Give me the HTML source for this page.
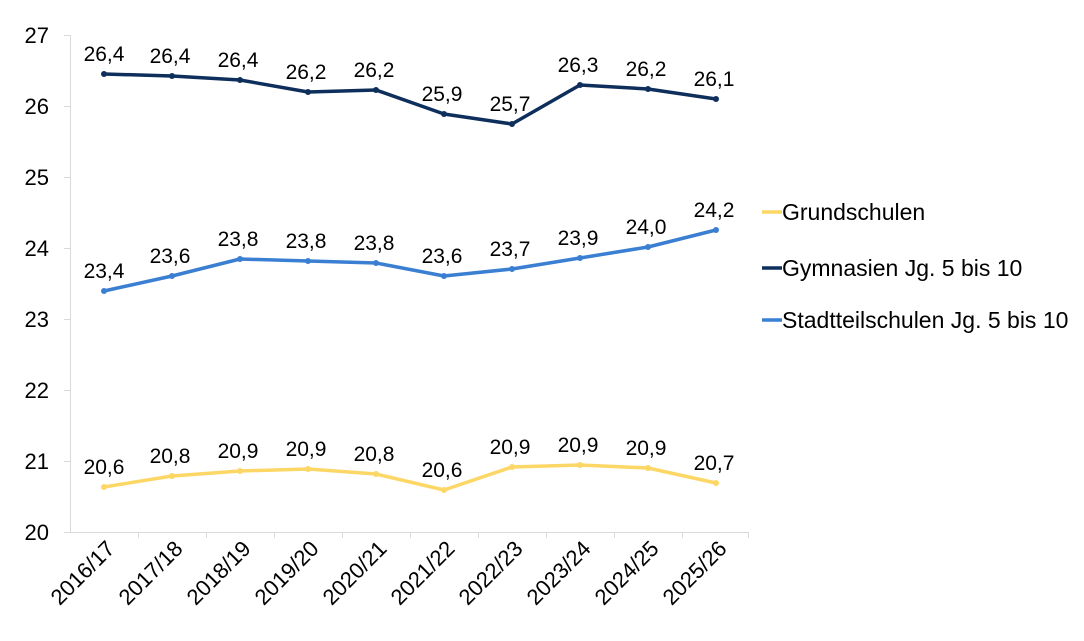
<!DOCTYPE html>
<html><head><meta charset="utf-8"><style>
body{margin:0;background:#fff;}
text{font-family:"Liberation Sans",Arial,sans-serif;fill:#000;}
</style></head><body>
<svg width="1084" height="636" viewBox="0 0 1084 636" xmlns="http://www.w3.org/2000/svg">
<g stroke="#d9d9d9" stroke-width="1">
<line x1="70.5" y1="35" x2="70.5" y2="532"/>
<line x1="70" y1="532.5" x2="748" y2="532.5"/>
<line x1="64" y1="35.5" x2="70" y2="35.5"/><line x1="64" y1="106.5" x2="70" y2="106.5"/>
<line x1="64" y1="177.5" x2="70" y2="177.5"/><line x1="64" y1="248.5" x2="70" y2="248.5"/>
<line x1="64" y1="319.5" x2="70" y2="319.5"/><line x1="64" y1="390.5" x2="70" y2="390.5"/>
<line x1="64" y1="461.5" x2="70" y2="461.5"/><line x1="64" y1="532.5" x2="70" y2="532.5"/>
<line x1="138.5" y1="532" x2="138.5" y2="538"/><line x1="206.5" y1="532" x2="206.5" y2="538"/>
<line x1="274.5" y1="532" x2="274.5" y2="538"/><line x1="342.5" y1="532" x2="342.5" y2="538"/>
<line x1="410.5" y1="532" x2="410.5" y2="538"/><line x1="478.5" y1="532" x2="478.5" y2="538"/>
<line x1="546.5" y1="532" x2="546.5" y2="538"/><line x1="614.5" y1="532" x2="614.5" y2="538"/>
<line x1="682.5" y1="532" x2="682.5" y2="538"/><line x1="748.5" y1="532" x2="748.5" y2="538"/>
</g>
<g font-size="22" text-anchor="end">
<text x="49" y="43">27</text><text x="49" y="114">26</text><text x="49" y="185">25</text>
<text x="49" y="256">24</text><text x="49" y="327">23</text><text x="49" y="398">22</text>
<text x="49" y="469">21</text><text x="49" y="540">20</text>
</g>
<g font-size="22" text-anchor="end">
<text transform="translate(116,550) rotate(-45)">2016/17</text>
<text transform="translate(184,550) rotate(-45)">2017/18</text>
<text transform="translate(252,550) rotate(-45)">2018/19</text>
<text transform="translate(320,550) rotate(-45)">2019/20</text>
<text transform="translate(388,550) rotate(-45)">2020/21</text>
<text transform="translate(456,550) rotate(-45)">2021/22</text>
<text transform="translate(524,550) rotate(-45)">2022/23</text>
<text transform="translate(592,550) rotate(-45)">2023/24</text>
<text transform="translate(660,550) rotate(-45)">2024/25</text>
<text transform="translate(728,550) rotate(-45)">2025/26</text>
</g>
<g fill="none" stroke-width="3.5" stroke-linejoin="round">
<polyline stroke="#0e2f5c" points="104,74 172,76 240,80 308,92 376,90 444,114 512,124 580,85 648,89 716,99"/>
<polyline stroke="#3a7fd2" points="104,291 172,276 240,259 308,261 376,263 444,276 512,269 580,258 648,247 716,230"/>
<polyline stroke="#fcd766" points="104,487 172,476 240,471 308,469 376,474 444,490 512,467 580,465 648,468 716,483"/>
</g>
<g fill="#0e2f5c"><circle cx="104" cy="74" r="3"/><circle cx="172" cy="76" r="3"/><circle cx="240" cy="80" r="3"/><circle cx="308" cy="92" r="3"/><circle cx="376" cy="90" r="3"/><circle cx="444" cy="114" r="3"/><circle cx="512" cy="124" r="3"/><circle cx="580" cy="85" r="3"/><circle cx="648" cy="89" r="3"/><circle cx="716" cy="99" r="3"/></g>
<g fill="#3a7fd2"><circle cx="104" cy="291" r="3"/><circle cx="172" cy="276" r="3"/><circle cx="240" cy="259" r="3"/><circle cx="308" cy="261" r="3"/><circle cx="376" cy="263" r="3"/><circle cx="444" cy="276" r="3"/><circle cx="512" cy="269" r="3"/><circle cx="580" cy="258" r="3"/><circle cx="648" cy="247" r="3"/><circle cx="716" cy="230" r="3"/></g>
<g fill="#fcd766"><circle cx="104" cy="487" r="3"/><circle cx="172" cy="476" r="3"/><circle cx="240" cy="471" r="3"/><circle cx="308" cy="469" r="3"/><circle cx="376" cy="474" r="3"/><circle cx="444" cy="490" r="3"/><circle cx="512" cy="467" r="3"/><circle cx="580" cy="465" r="3"/><circle cx="648" cy="468" r="3"/><circle cx="716" cy="483" r="3"/></g>
<g font-size="21" text-anchor="middle">
<text x="104" y="61">26,4</text><text x="170" y="63">26,4</text><text x="238" y="67">26,4</text><text x="306" y="79">26,2</text><text x="374" y="77">26,2</text><text x="442" y="101">25,9</text><text x="510" y="111">25,7</text><text x="578" y="72">26,3</text><text x="646" y="76">26,2</text><text x="714" y="86">26,1</text>
<text x="104" y="278">23,4</text><text x="170" y="263">23,6</text><text x="238" y="246">23,8</text><text x="306" y="248">23,8</text><text x="374" y="250">23,8</text><text x="442" y="263">23,6</text><text x="510" y="256">23,7</text><text x="578" y="245">23,9</text><text x="646" y="234">24,0</text><text x="714" y="217">24,2</text>
<text x="104" y="474">20,6</text><text x="170" y="463">20,8</text><text x="238" y="458">20,9</text><text x="306" y="456">20,9</text><text x="374" y="461">20,8</text><text x="442" y="477">20,6</text><text x="510" y="454">20,9</text><text x="578" y="452">20,9</text><text x="646" y="455">20,9</text><text x="714" y="470">20,7</text>
</g>
<g stroke-width="3.5">
<line x1="762" y1="212" x2="782" y2="212" stroke="#fcd766"/>
<line x1="762" y1="268" x2="782" y2="268" stroke="#0e2f5c"/>
<line x1="762" y1="320" x2="782" y2="320" stroke="#3a7fd2"/>
</g>
<g font-size="23">
<text x="782" y="220">Grundschulen</text>
<text x="782" y="276">Gymnasien Jg. 5 bis 10</text>
<text x="782" y="328">Stadtteilschulen Jg. 5 bis 10</text>
</g>
</svg>
</body></html>
